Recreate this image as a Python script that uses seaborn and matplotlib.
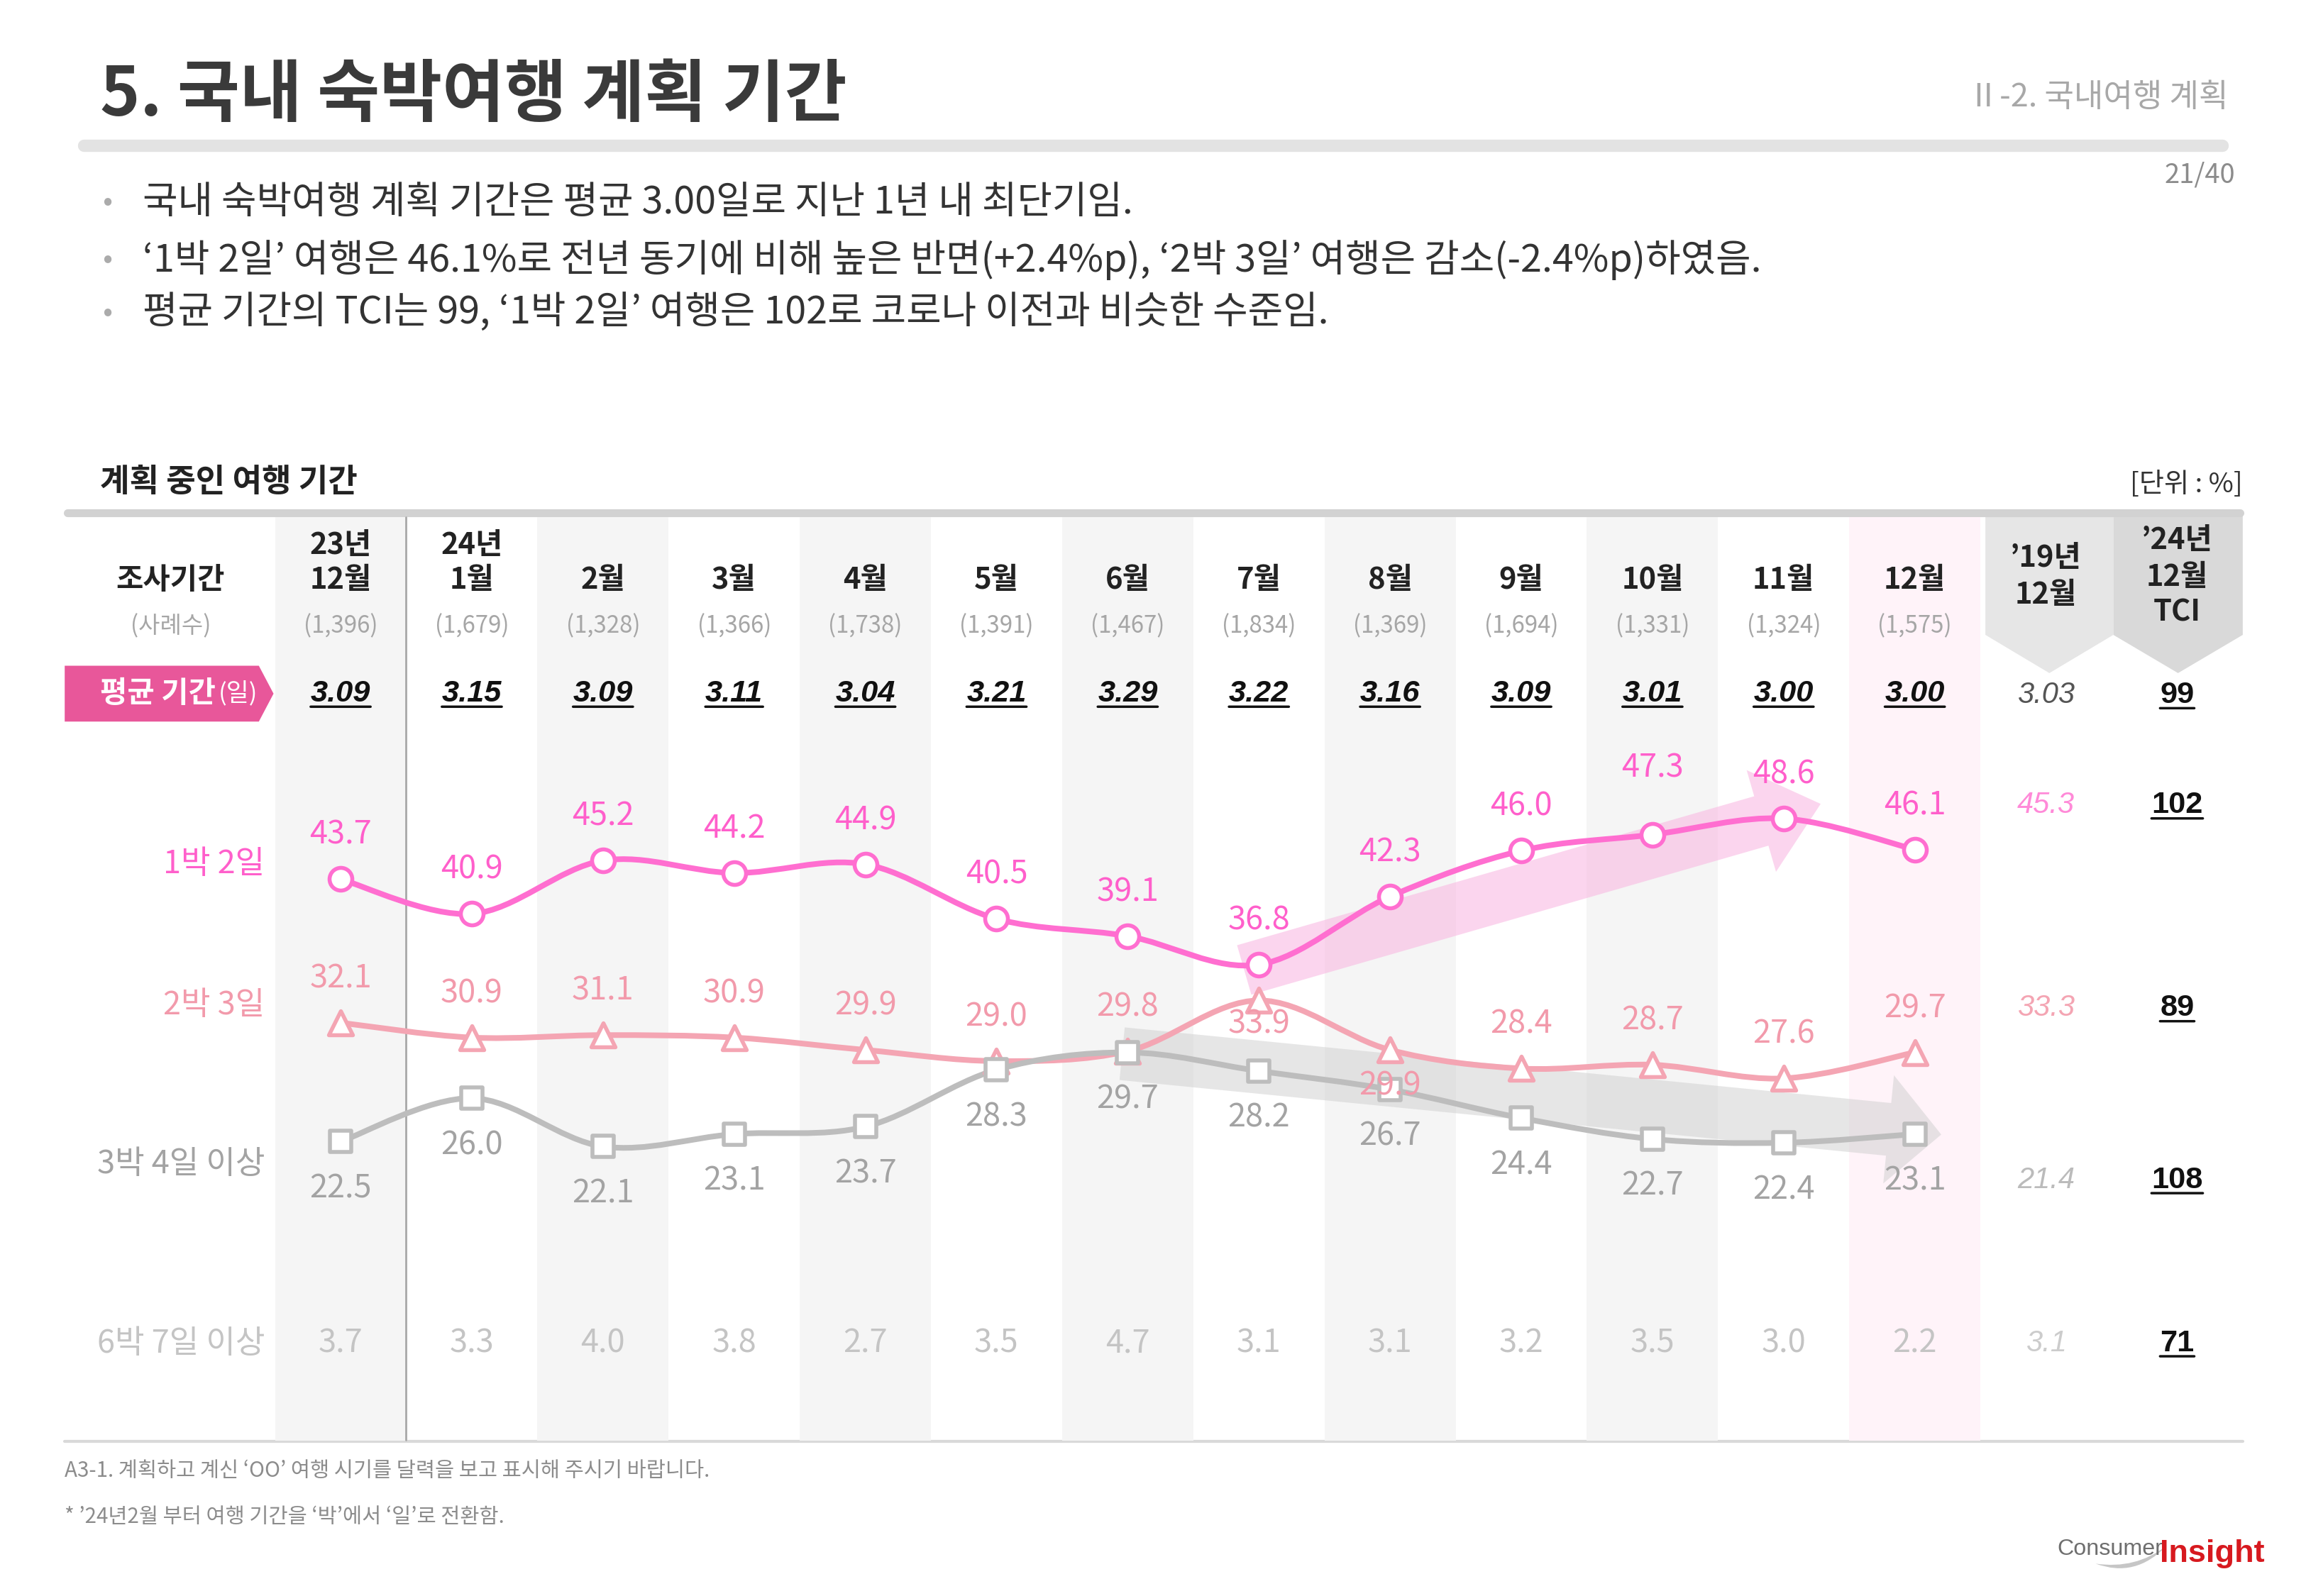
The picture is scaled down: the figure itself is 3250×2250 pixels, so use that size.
import numpy as np
import matplotlib
matplotlib.use("Agg")
import matplotlib.pyplot as plt
import seaborn as sns
from matplotlib.path import Path
from matplotlib.patches import PathPatch, Polygon, FancyArrow

# ---- data ----
year_labels = ['23년', '24년', '', '', '', '', '', '', '', '', '', '', '']
month_labels = ['12월', '1월', '2월', '3월', '4월', '5월', '6월', '7월', '8월', '9월', '10월', '11월', '12월']
sample_sizes = ['(1,396)', '(1,679)', '(1,328)', '(1,366)', '(1,738)', '(1,391)', '(1,467)',
                '(1,834)', '(1,369)', '(1,694)', '(1,331)', '(1,324)', '(1,575)']
avg_days = [3.09, 3.15, 3.09, 3.11, 3.04, 3.21, 3.29, 3.22, 3.16, 3.09, 3.01, 3.00, 3.00]

nights_1 = [43.7, 40.9, 45.2, 44.2, 44.9, 40.5, 39.1, 36.8, 42.3, 46.0, 47.3, 48.6, 46.1]
nights_2 = [32.1, 30.9, 31.1, 30.9, 29.9, 29.0, 29.8, 33.9, 29.9, 28.4, 28.7, 27.6, 29.7]
nights_3 = [22.5, 26.0, 22.1, 23.1, 23.7, 28.3, 29.7, 28.2, 26.7, 24.4, 22.7, 22.4, 23.1]
nights_6 = [3.7, 3.3, 4.0, 3.8, 2.7, 3.5, 4.7, 3.1, 3.1, 3.2, 3.5, 3.0, 2.2]

row_names = ['1박 2일', '2박 3일', '3박 4일 이상', '6박 7일 이상']
avg_2019 = 3.03
share_2019 = [45.3, 33.3, 21.4, 3.1]
tci_avg = 99
tci = [102, 89, 108, 71]

# ---- style ----
sns.set_theme(style='white')
plt.rcParams['font.family'] = ['Noto Sans CJK KR', 'DejaVu Sans']
plt.rcParams['axes.unicode_minus'] = False
NUM_FONT = ['Liberation Sans', 'DejaVu Sans']

c_1 = '#FF6ED0'
c_2 = '#F4A5B3'
c_3 = '#BDBDBD'
lab_colors = ['#FF5FCB', '#F29AAB', '#A3A3A3', '#C4C4C4']
band_grey = '#F5F5F5'
band_pink = '#FFF3F9'

# layout in a 1568 x 1086 reference canvas
W, H = 1568, 1086
Y_TOP, Y_BOT = 350, 982
Y_ZERO, Y_SCALE = 966.2, 8.42


def row(py):
    return (Y_ZERO - py) / Y_SCALE


fig = plt.figure(figsize=(13, 9), dpi=250)
ov = fig.add_axes([0, 0, 1, 1], zorder=0)
ov.set_xlim(0, W)
ov.set_ylim(H, 0)
ov.axis('off')

ax = fig.add_axes([187 / W, 1 - Y_BOT / H, (1525 - 187) / W, (Y_BOT - Y_TOP) / H], zorder=1)
ax.patch.set_visible(False)
ax.set_xlim(-0.5, 14.5)
ax.set_ylim(row(Y_BOT), row(Y_TOP))
ax.axis('off')

# ---- header ----
ov.text(68, 65, '5. 국내 숙박여행 계획 기간', fontsize=27.5, fontweight='bold',
        color='#3A3A3A', va='center', ha='left')
ov.text(1515, 66, 'Ⅱ-2. 국내여행 계획', fontsize=13, color='#A8A8A8', va='center', ha='right')
ov.plot([57, 1511], [99, 99], color='#E3E3E3', lw=5, solid_capstyle='round')
ov.text(1520, 119, '21/40', fontsize=11, color='#8C8C8C', va='center', ha='right')

bullets = [
    '국내 숙박여행 계획 기간은 평균 3.00일로 지난 1년 내 최단기임.',
    '‘1박 2일’ 여행은 46.1%로 전년 동기에 비해 높은 반면(+2.4%p), ‘2박 3일’ 여행은 감소(-2.4%p)하였음.',
    '평균 기간의 TCI는 99, ‘1박 2일’ 여행은 102로 코로나 이전과 비슷한 수준임.',
]
for yb, txt in zip([138, 177, 213], bullets):
    ov.text(73, yb, '•', fontsize=12, color='#ABABAB', va='center', ha='center')
    ov.text(97, yb, txt, fontsize=15.5, color='#333333', va='center', ha='left')

ov.text(68, 328, '계획 중인 여행 기간', fontsize=13, fontweight='bold', color='#222222',
        va='center', ha='left')
ov.text(1525, 330, '[단위 : %]', fontsize=11, color='#333333', va='center', ha='right')
ov.plot([46, 1523], [349, 349], color='#D2D2D2', lw=3.2, solid_capstyle='round')

# grey chevron headers for 2019 and TCI columns
ov.add_patch(Polygon([(1350, 351), (1437, 351), (1437, 432), (1393.5, 458), (1350, 432)],
                     closed=True, facecolor='#E6E6E6', edgecolor='none'))
ov.add_patch(Polygon([(1437, 351), (1525, 351), (1525, 432), (1481, 458), (1437, 432)],
                     closed=True, facecolor='#D9D9D9', edgecolor='none'))

# pink label box for the average row
ov.add_patch(Polygon([(44, 453), (176, 453), (186, 472), (176, 491), (44, 491)],
                     closed=True, facecolor='#E8579A', edgecolor='none'))
t_avg = ov.text(68, 472, '평균 기간', fontsize=12, fontweight='bold', color='white',
                va='center', ha='left')
ov.annotate('(일)', xy=(1, 0.5), xycoords=t_avg, xytext=(1, 0), textcoords='offset points',
            fontsize=10, color='white', va='center', ha='left')

ov.text(116, 395, '조사기간', fontsize=12, fontweight='bold', color='#222222', va='center', ha='center')
ov.text(116, 426, '(사례수)', fontsize=9.5, color='#A6A6A6', va='center', ha='center')

for name, py, col in zip(row_names, [588, 684, 792, 914], lab_colors):
    ov.text(180, py, name, fontsize=13, color=col, va='center', ha='right')

ov.plot([44, 1525], [981, 981], color='#D9D9D9', lw=1.2)

ov.text(44, 1001, 'A3-1. 계획하고 계신 ‘OO’ 여행 시기를 달력을 보고 표시해 주시기 바랍니다.',
        fontsize=8.5, color='#8C8C8C', va='center', ha='left')
ov.text(44, 1032, '* ’24년2월 부터 여행 기간을 ‘박’에서 ‘일’로 전환함.',
        fontsize=8.5, color='#8C8C8C', va='center', ha='left')

# logo
swoosh = Path([(1425, 1064), (1452, 1074), (1473, 1052), (1452, 1068), (1425, 1064)],
              [Path.MOVETO, Path.CURVE3, Path.CURVE3, Path.CURVE3, Path.CURVE3])
ov.add_patch(PathPatch(swoosh, facecolor='#C6C6C6', edgecolor='none'))
ov.text(1399, 1058, 'Consumer', fontsize=9.3, color='#6E6E6E', va='baseline', ha='left',
        family=NUM_FONT)
ov.text(1540, 1063, 'Insight', fontsize=13, fontweight='bold', color='#D7191F',
        va='baseline', ha='right', family=NUM_FONT)

# ---- column bands ----
for i in range(0, 12, 2):
    ax.axvspan(i - 0.5, i + 0.5, ymin=0.003, ymax=0.997, color=band_grey, lw=0, zorder=0)
ax.axvspan(11.5, 12.5, ymin=0.003, ymax=0.997, color=band_pink, lw=0, zorder=0)
ax.plot([0.5, 0.5], [row(980), row(352)], color='#A8A8A8', lw=0.8, zorder=1)

# ---- table header / average row ----
for i in range(13):
    if year_labels[i]:
        ax.text(i, row(371), year_labels[i], fontsize=12, fontweight='bold', color='#222222',
                ha='center', va='center')
    ax.text(i, row(395), month_labels[i], fontsize=12, fontweight='bold', color='#222222',
            ha='center', va='center')
    ax.text(i, row(426), sample_sizes[i], fontsize=9.5, color='#A6A6A6', ha='center', va='center')


def underlined(x, y, s, **kw):
    t = ax.text(x, y, s, ha='center', va='center', **kw)
    ax.annotate('', xy=(0, 0.04), xycoords=t, xytext=(1, 0.04), textcoords=t,
                arrowprops=dict(arrowstyle='-', color=kw.get('color', 'black'), lw=1.0,
                                shrinkA=0, shrinkB=0))
    return t


for i, v in enumerate(avg_days):
    underlined(i, row(472), f'{v:.2f}', fontsize=12.5, fontweight='bold', style='italic',
               family=NUM_FONT, color='#111111')

ax.text(13, row(380), '’19년', fontsize=12, fontweight='bold', color='#222222', ha='center', va='center')
ax.text(13, row(405), '12월', fontsize=12, fontweight='bold', color='#222222', ha='center', va='center')
ax.text(14, row(368), '’24년', fontsize=12, fontweight='bold', color='#222222', ha='center', va='center')
ax.text(14, row(393), '12월', fontsize=12, fontweight='bold', color='#222222', ha='center', va='center')
ax.text(14, row(417), 'TCI', fontsize=12, fontweight='bold', color='#222222', ha='center', va='center')

ax.text(13, row(473), f'{avg_2019:.2f}', fontsize=12, style='italic', family=NUM_FONT,
        color='#555555', ha='center', va='center')
underlined(14, row(473), f'{tci_avg}', fontsize=12.5, fontweight='bold', family=NUM_FONT,
           color='#111111')

side_colors = ['#FF8AD8', '#F4A5B3', '#BBBBBB', '#CCCCCC']
for py, v, tv, col in zip([548, 686, 803, 914], share_2019, tci, side_colors):
    ax.text(13, row(py), f'{v:.1f}', fontsize=12, style='italic', family=NUM_FONT,
            color=col, ha='center', va='center')
    underlined(14, row(py), f'{tv}', fontsize=12.5, fontweight='bold', family=NUM_FONT,
               color='#111111')

for i, v in enumerate(nights_6):
    ax.text(i, row(914), f'{v:.1f}', fontsize=13, color=lab_colors[3], ha='center', va='center')

# ---- trend arrows (reference-pixel geometry) ----
ax.add_patch(FancyArrow(846, 660, 392, -113, width=35, head_width=72, head_length=42,
                        length_includes_head=True, facecolor='#F9B4E0', alpha=0.55,
                        edgecolor='none', transform=ov.transData, zorder=2, clip_on=False))
ax.add_patch(FancyArrow(763, 717, 557, 55, width=36, head_width=74, head_length=36,
                        length_includes_head=True, facecolor='#CFCFCF', alpha=0.5,
                        edgecolor='none', transform=ov.transData, zorder=2, clip_on=False))


# ---- smoothed lines, markers, labels ----
def smooth_path(xs, ys):
    pts = np.column_stack([xs, ys]).astype(float)
    ext = np.vstack([pts[0], pts, pts[-1]])
    verts, codes = [pts[0]], [Path.MOVETO]
    for k in range(len(pts) - 1):
        p0, p1, p2, p3 = ext[k], ext[k + 1], ext[k + 2], ext[k + 3]
        verts += [p1 + (p2 - p0) / 6, p2 - (p3 - p1) / 6, p2]
        codes += [Path.CURVE4] * 3
    return Path(verts, codes)


x = np.arange(13)
series = [
    (nights_1, c_1, 'o', 85, lab_colors[0], {10: 27}, 18),
    (nights_2, c_2, '^', 95, lab_colors[1], {7: -9.5, 8: -14.5}, 18),
    (nights_3, c_3, 's', 70, lab_colors[2], {}, -19),
]
for vals, col, mk, size, lcol, special, off in series:
    ax.add_patch(PathPatch(smooth_path(x, vals), facecolor='none', edgecolor=col, lw=2.3,
                           capstyle='round', joinstyle='round', zorder=3))
    sns.scatterplot(x=x, y=vals, marker=mk, s=size, color='white', edgecolor=col,
                    linewidth=1.6, ax=ax, zorder=4, legend=False, clip_on=False)
    for i, v in enumerate(vals):
        ax.annotate(f'{v:.1f}', (i, v), xytext=(0, special.get(i, off)), textcoords='offset points',
                    ha='center', va='center', fontsize=13, color=lcol, zorder=5)

ax.set_xlim(-0.5, 14.5)
ax.set_ylim(row(Y_BOT), row(Y_TOP))

fig.savefig('out.png', dpi=250)
